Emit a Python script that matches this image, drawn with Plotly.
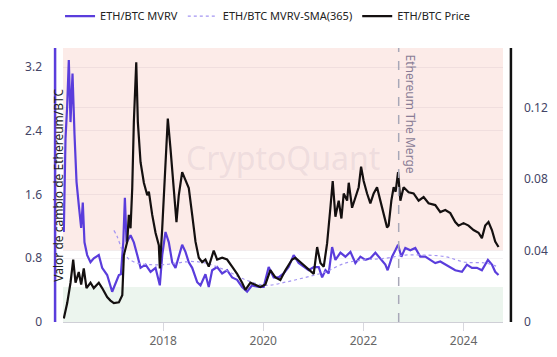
import plotly.graph_objects as go
import pandas as pd

# Dates given as decimal years
price_years = [2016.016,2016.084,2016.15,2016.204,2016.25,2016.315,2016.363,2016.415,2016.469,2016.549,2016.615,2016.715,2016.782,2016.882,2016.948,2017.014,2017.114,2017.182,2017.214,2017.248,2017.281,2017.313,2017.347,2017.381,2017.413,2017.461,2017.493,2017.547,2017.613,2017.681,2017.713,2017.78,2017.846,2017.912,2017.932,2017.98,2018.046,2018.092,2018.146,2018.212,2018.265,2018.311,2018.379,2018.445,2018.511,2018.579,2018.645,2018.711,2018.778,2018.844,2018.91,2019.01,2019.078,2019.178,2019.277,2019.377,2019.477,2019.577,2019.643,2019.743,2019.842,2019.942,2020.042,2020.142,2020.242,2020.341,2020.441,2020.575,2020.641,2020.741,2020.84,2020.94,2021.006,2021.074,2021.14,2021.206,2021.273,2021.339,2021.385,2021.439,2021.505,2021.559,2021.605,2021.673,2021.705,2021.772,2021.838,2021.904,2021.952,2022.004,2022.072,2022.138,2022.204,2022.271,2022.337,2022.403,2022.471,2022.503,2022.557,2022.603,2022.643,2022.691,2022.737,2022.802,2022.902,2023.002,2023.102,2023.202,2023.301,2023.435,2023.535,2023.635,2023.735,2023.834,2023.9,2024.0,2024.1,2024.2,2024.3,2024.367,2024.433,2024.499,2024.567,2024.633,2024.699]
price_values = [0.002,0.0106,0.022,0.035,0.022,0.028,0.021,0.030,0.019,0.022,0.019,0.022,0.019,0.014,0.012,0.0106,0.011,0.015,0.0375,0.041,0.045,0.060,0.0525,0.075,0.112,0.1455,0.112,0.0895,0.078,0.071,0.073,0.060,0.050,0.043,0.030,0.0525,0.093,0.114,0.097,0.075,0.056,0.071,0.084,0.0795,0.075,0.060,0.045,0.036,0.0335,0.035,0.031,0.040,0.035,0.036,0.035,0.031,0.027,0.022,0.018,0.022,0.021,0.0196,0.021,0.029,0.025,0.0235,0.029,0.035,0.036,0.0335,0.031,0.029,0.027,0.042,0.033,0.031,0.044,0.064,0.079,0.059,0.068,0.058,0.072,0.068,0.078,0.064,0.070,0.0755,0.087,0.079,0.072,0.0665,0.072,0.0755,0.068,0.061,0.053,0.054,0.068,0.0755,0.073,0.084,0.068,0.0755,0.0727,0.072,0.068,0.070,0.0665,0.0655,0.0616,0.0627,0.061,0.056,0.054,0.0554,0.054,0.0515,0.050,0.047,0.054,0.056,0.0515,0.045,0.042]

mvrv_years = [2016.016,2016.05,2016.084,2016.116,2016.15,2016.19,2016.23,2016.27,2016.315,2016.363,2016.395,2016.429,2016.483,2016.549,2016.615,2016.715,2016.782,2016.882,2016.982,2017.048,2017.114,2017.154,2017.202,2017.234,2017.267,2017.347,2017.413,2017.481,2017.547,2017.647,2017.747,2017.846,2017.932,2017.98,2018.046,2018.112,2018.18,2018.246,2018.311,2018.379,2018.445,2018.511,2018.579,2018.679,2018.745,2018.844,2018.91,2018.978,2019.078,2019.178,2019.277,2019.377,2019.477,2019.577,2019.677,2019.776,2019.908,2020.008,2020.108,2020.208,2020.307,2020.407,2020.507,2020.607,2020.707,2020.806,2020.906,2021.006,2021.106,2021.174,2021.24,2021.305,2021.373,2021.439,2021.539,2021.639,2021.739,2021.838,2021.938,2022.038,2022.138,2022.238,2022.337,2022.437,2022.483,2022.571,2022.637,2022.691,2022.757,2022.836,2022.936,2023.036,2023.136,2023.236,2023.335,2023.435,2023.535,2023.635,2023.735,2023.834,2023.968,2024.068,2024.168,2024.267,2024.367,2024.487,2024.567,2024.633,2024.699]
mvrv_values = [1.13,2.3,2.72,3.29,2.51,3.12,2.35,1.76,1.47,1.18,1.5,1.0,0.84,0.75,0.8,0.84,0.68,0.59,0.38,0.5,0.59,0.6,1.0,1.56,1.0,1.09,1.0,0.84,0.68,0.72,0.63,0.68,0.46,0.84,1.13,1.0,0.75,0.68,0.84,0.97,0.88,0.75,0.68,0.5,0.46,0.6,0.44,0.65,0.69,0.61,0.65,0.56,0.53,0.44,0.38,0.46,0.44,0.44,0.69,0.56,0.56,0.61,0.69,0.84,0.74,0.69,0.65,0.69,0.69,0.56,0.65,0.61,0.94,0.78,0.87,0.82,0.88,0.74,0.82,0.78,0.8,0.87,0.8,0.72,0.65,0.82,0.9,0.97,0.82,0.93,0.9,0.93,0.82,0.82,0.78,0.74,0.76,0.72,0.69,0.65,0.63,0.72,0.68,0.68,0.65,0.78,0.72,0.63,0.59]

sma_years = [2017.014,2017.082,2017.182,2017.248,2017.313,2017.481,2017.747,2018.012,2018.279,2018.545,2018.844,2019.243,2019.643,2020.042,2020.441,2020.84,2021.24,2021.639,2022.038,2022.437,2022.836,2023.236,2023.635,2024.034,2024.433,2024.699]
sma_values = [1.15,1.07,0.9,0.84,0.79,0.74,0.72,0.72,0.74,0.76,0.74,0.65,0.53,0.46,0.5,0.56,0.63,0.74,0.78,0.8,0.84,0.84,0.82,0.75,0.74,0.69]

merge_date = "2022-09-15"
left_ticks = [0, 0.8, 1.6, 2.4, 3.2]
left_labels = ["0", "0.8", "1.6", "2.4", "3.2"]
right_ticks = [0, 0.04, 0.08, 0.12]
right_labels = ["0", "0.04", "0.08", "0.12"]
x_ticks = ["2018-01-01", "2020-01-01", "2022-01-01", "2024-01-01"]
x_labels = ["2018", "2020", "2022", "2024"]


def to_dates(years):
    out = []
    for y in years:
        yr = int(y)
        start = pd.Timestamp(year=yr, month=1, day=1)
        out.append(start + pd.Timedelta(days=(y - yr) * 365.25))
    return out


PURPLE = "#5a3ddc"
FONT = "Noto Sans"

fig = go.Figure()
fig.add_trace(go.Scatter(x=to_dates(mvrv_years), y=mvrv_values, name="ETH/BTC MVRV", mode="lines",
                         line=dict(color=PURPLE, width=2.2)))
fig.add_trace(go.Scatter(x=to_dates(sma_years), y=sma_values, name="ETH/BTC MVRV-SMA(365)", mode="lines",
                         line=dict(color="#a495f2", width=1.2, dash="dot", shape="spline")))
fig.add_trace(go.Scatter(x=to_dates(price_years), y=price_values, name="ETH/BTC Price", mode="lines",
                         line=dict(color="#141010", width=2.2), yaxis="y2"))

shapes = [
    dict(type="rect", xref="paper", yref="y", x0=0, x1=1, y0=0.9, y1=3.44,
         fillcolor="#fcebe8", line_width=0, layer="below"),
    dict(type="rect", xref="paper", yref="y", x0=0, x1=1, y0=0, y1=0.44,
         fillcolor="#ecf5ee", line_width=0, layer="below"),
    dict(type="line", xref="x", yref="paper", x0=merge_date, x1=merge_date, y0=0, y1=1,
         line=dict(color="#a8a8b8", width=1.5, dash="dash")),
    dict(type="line", xref="paper", yref="paper", x0=-0.018, x1=-0.018, y0=0, y1=1,
         line=dict(color=PURPLE, width=2.5)),
    dict(type="line", xref="paper", yref="paper", x0=1.018, x1=1.018, y0=0, y1=1,
         line=dict(color="#111111", width=2.5)),
]

annotations = [
    dict(text="CryptoQuant", xref="paper", yref="paper", x=0.5, y=0.6, showarrow=False,
         font=dict(family=FONT, size=32, color="rgba(170,150,170,0.18)")),
    dict(text="Ethereum The Merge", xref="x", yref="paper", x=merge_date, y=0.76,
         xanchor="left", yanchor="middle", xshift=1, showarrow=False, textangle=90,
         font=dict(family=FONT, size=12, color="#8a7d96")),
    dict(text="Valor de cambio de Ethereum/BTC", xref="paper", yref="paper", x=-0.012, y=0.5,
         xanchor="center", yanchor="middle", showarrow=False, textangle=-90,
         font=dict(family=FONT, size=12, color="#222222")),
]

fig.update_layout(
    width=549, height=349,
    margin=dict(l=55, r=54, t=40, b=35, autoexpand=False),
    paper_bgcolor="white", plot_bgcolor="white",
    font=dict(family=FONT, size=12, color="#444444"),
    showlegend=True,
    legend=dict(orientation="h", x=0.466, xanchor="center", y=0.977, yanchor="middle",
                yref="container", font=dict(size=11, color="#222222"), itemwidth=30,
                bgcolor="rgba(0,0,0,0)"),
    xaxis=dict(type="date", range=["2016-01-01", "2024-10-15"], tickvals=x_ticks, ticktext=x_labels,
               showgrid=False, showline=True, linecolor="#cfcfd6", linewidth=1,
               ticks="outside", ticklen=8, tickcolor="#d8d8de", tickfont=dict(color="#666666", size=12),
               zeroline=False, automargin=False),
    yaxis=dict(range=[0, 3.44], tickvals=left_ticks, ticktext=left_labels,
               showgrid=True, gridcolor="rgba(120,100,120,0.09)", zeroline=False, automargin=False,
               ticklabelstandoff=20, tickfont=dict(color="#444466", size=12), showline=False),
    yaxis2=dict(range=[0, 0.1535], tickvals=right_ticks, ticktext=right_labels, overlaying="y",
                side="right", showgrid=True, gridcolor="rgba(120,100,120,0.09)", zeroline=False,
                automargin=False,
                ticklabelstandoff=20, tickfont=dict(color="#444466", size=12), showline=False),
    shapes=shapes, annotations=annotations,
)

fig.write_html("out.html")
